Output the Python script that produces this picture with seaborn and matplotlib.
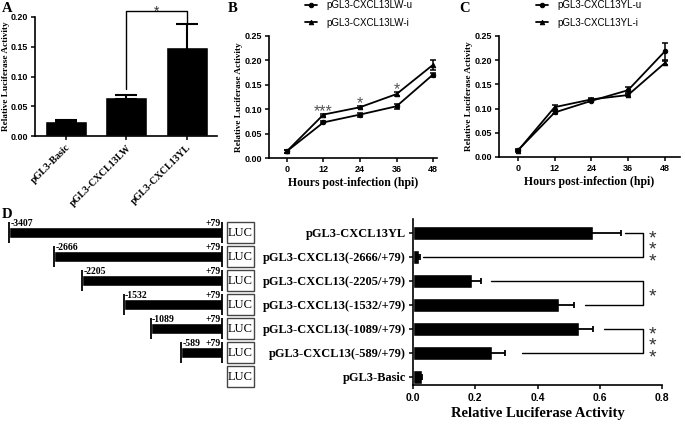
import numpy as np
import pandas as pd
import matplotlib
matplotlib.use("Agg")
import matplotlib.pyplot as plt
import matplotlib.transforms as mtransforms
from matplotlib.patches import Rectangle
import seaborn as sns

# ---------------- data ----------------
a_categories = ["pGL3-Basic", "pGL3-CXCL13LW", "pGL3-CXCL13YL"]
a_values = [0.025, 0.066, 0.150]
a_errors = [0.002, 0.003, 0.038]

hours = [0, 12, 24, 36, 48]
b_names = ["pGL3-CXCL13LW-u", "pGL3-CXCL13LW-i"]
b_u = [0.014, 0.073, 0.089, 0.106, 0.171]
b_u_err = [0.003, 0.002, 0.004, 0.005, 0.004]
b_i = [0.014, 0.089, 0.104, 0.131, 0.191]
b_i_err = [0.003, 0.002, 0.002, 0.004, 0.010]
b_stars = ["", "***", "*", "*", ""]

c_names = ["pGL3-CXCL13YL-u", "pGL3-CXCL13YL-i"]
c_u = [0.014, 0.092, 0.116, 0.138, 0.218]
c_u_err = [0.002, 0.003, 0.003, 0.006, 0.018]
c_i = [0.013, 0.103, 0.119, 0.128, 0.194]
c_i_err = [0.002, 0.005, 0.003, 0.003, 0.004]

d_categories = ["pGL3-CXCL13YL", "pGL3-CXCL13(-2666/+79)", "pGL3-CXCL13(-2205/+79)",
                "pGL3-CXCL13(-1532/+79)", "pGL3-CXCL13(-1089/+79)",
                "pGL3-CXCL13(-589/+79)", "pGL3-Basic"]
d_values = [0.578, 0.019, 0.190, 0.469, 0.533, 0.253, 0.028]
d_errors = [0.090, 0.004, 0.030, 0.048, 0.045, 0.042, 0.002]
d_sig = ["***", "*", "***"]

promoter_starts = [-3407, -2666, -2205, -1532, -1089, -589]
promoter_end = 79

# ---------------- style ----------------
sns.set_theme(style="ticks", rc={
    "axes.linewidth": 1.2, "axes.edgecolor": "black",
    "xtick.major.width": 1.1, "ytick.major.width": 1.1,
    "xtick.major.size": 3, "ytick.major.size": 3,
    "xtick.color": "black", "ytick.color": "black",
    "text.color": "black", "axes.labelcolor": "black",
})
plt.rcParams["font.family"] = ["Liberation Sans", "DejaVu Sans"]
SERIF = ["Liberation Serif", "DejaVu Serif"]
SANS = ["Liberation Sans", "DejaVu Sans"]

W, H = 685, 432
fig = plt.figure(figsize=(W / 100, H / 100), dpi=100)


def px_axes(l, t, r, b):
    return fig.add_axes([l / W, 1 - b / H, (r - l) / W, (b - t) / H])


def style_ticks(ax, size=6.5):
    for lab in ax.get_xticklabels() + ax.get_yticklabels():
        lab.set_fontfamily(SANS)
        lab.set_fontweight("bold")
        lab.set_fontsize(size)


# ---------------- Panel A ----------------
axA = px_axes(35, 17, 217, 136)
dfa = pd.DataFrame({"construct": a_categories, "activity": a_values})
sns.barplot(data=dfa, x="construct", y="activity", color="black", saturation=1,
            width=0.7, errorbar=None, ax=axA)
axA.errorbar(range(len(a_values)), a_values, yerr=a_errors, fmt="none",
             ecolor="black", elinewidth=1.5, capsize=8, capthick=1.5)
axA.set_xlim(-0.51, 2.5)
axA.set_ylim(0, 0.2)
axA.set_yticks(np.arange(0, 0.201, 0.05))
axA.set_yticklabels([f"{v:.2f}" for v in np.arange(0, 0.201, 0.05)])
style_ticks(axA, 6.4)
axA.set_xticks(range(3))
axA.set_xticklabels(a_categories, rotation=45, ha="right", rotation_mode="anchor",
                    fontsize=7.2, fontweight="bold", fontfamily=SERIF)
axA.tick_params(axis="both", pad=2)
axA.set_xlabel("")
axA.set_ylabel("Relative Luciferase Activity", fontsize=6.7, fontweight="bold",
               fontfamily=SERIF, labelpad=0.5)
sns.despine(ax=axA)
axA.plot([1, 1, 2, 2], [0.079, 0.2095, 0.2095, 0.188], color="black", lw=1,
         clip_on=False)
axA.annotate("*", (1.5, 0.2095), xytext=(0, -3), textcoords="offset points",
             ha="center", va="baseline", fontsize=10, color="#333333",
             annotation_clip=False)


# ---------------- Panels B, C ----------------
def line_panel(ax, u, u_err, i, i_err, names, xlim, leg_x):
    df = pd.DataFrame({"hpi": hours + hours, "activity": u + i,
                       "series": [names[0]] * len(hours) + [names[1]] * len(hours)})
    sns.lineplot(data=df, x="hpi", y="activity", hue="series", style="series",
                 markers={names[0]: "o", names[1]: "^"}, dashes=False,
                 palette={names[0]: "black", names[1]: "black"},
                 markersize=3.2, markeredgecolor="black", linewidth=1.3,
                 errorbar=None, ax=ax)
    for vals, errs in ((u, u_err), (i, i_err)):
        ax.errorbar(hours, vals, yerr=errs, fmt="none", ecolor="black",
                    elinewidth=1.1, capsize=2, capthick=1.1)
    ax.set_xlim(*xlim)
    ax.set_ylim(0, 0.25)
    ax.set_xticks(hours)
    ax.set_yticks(np.arange(0, 0.251, 0.05))
    ax.set_yticklabels([f"{v:.2f}" for v in np.arange(0, 0.251, 0.05)])
    style_ticks(ax, 6.5)
    ax.tick_params(axis="both", pad=2)
    ax.set_xlabel("Hours post-infection (hpi)", fontsize=8.5, fontweight="bold",
                  fontfamily=SERIF, labelpad=2)
    ax.set_ylabel("Relative Luciferase Activity", fontsize=6.7, fontweight="bold",
                  fontfamily=SERIF, labelpad=1)
    sns.despine(ax=ax)
    leg = ax.get_legend()
    handles = [h for h, t in zip(leg.legend_handles, leg.get_texts()) if t.get_text() in names]
    labels = [t.get_text() for t in leg.get_texts() if t.get_text() in names]
    leg.remove()
    ax.legend(handles, labels, loc="upper left", bbox_to_anchor=(leg_x / W, 1.0),
              bbox_transform=fig.transFigure, frameon=False, fontsize=7,
              handlelength=1.2, handletextpad=1.0, labelspacing=0.8,
              borderpad=0, borderaxespad=0)


axB = px_axes(269, 36, 437, 158)
line_panel(axB, b_u, b_u_err, b_i, b_i_err, b_names, (-5.9, 49.3), 305)
for h, s, v, e in zip(hours, b_stars, b_i, b_i_err):
    if s:
        axB.annotate(s, (h, v + e), xytext=(0, -1.5), textcoords="offset points",
                     ha="center", va="baseline", fontsize=11.5, color="#555555")

axC = px_axes(499, 36, 680, 157)
line_panel(axC, c_u, c_u_err, c_i, c_i_err, c_names, (-6.2, 53), 536)

# ---------------- Panel D (right: bar chart) ----------------
axD = px_axes(413, 219, 662, 385)
dfd = pd.DataFrame({"construct": d_categories, "activity": d_values})
sns.barplot(data=dfd, x="activity", y="construct", orient="h", color="black",
            saturation=1, width=0.58, errorbar=None, ax=axD)
axD.errorbar(d_values, range(len(d_values)), xerr=d_errors, fmt="none",
             ecolor="black", elinewidth=1.3, capsize=2.5, capthick=1.3)
axD.set_xlim(0, 0.8)
axD.set_ylim(6.35, -0.57)
axD.set_xticks(np.arange(0, 0.81, 0.2))
axD.set_xticklabels([f"{v:.1f}" for v in np.arange(0, 0.81, 0.2)])
style_ticks(axD, 7.5)
for lab in axD.get_yticklabels():
    lab.set_fontfamily(SERIF)
    lab.set_fontweight("bold")
    lab.set_fontsize(8.9)
axD.tick_params(axis="y", pad=2)
axD.tick_params(axis="x", pad=3)
axD.set_ylabel("")
axD.set_xlabel("Relative Luciferase Activity", fontsize=10.5, fontweight="bold",
               fontfamily=SERIF, labelpad=3)
sns.despine(ax=axD)

# significance brackets
brackets = [(0, 1, 0.68, 0.032), (2, 3, 0.25, 0.552), (4, 5, 0.613, 0.35)]
xr = 0.738
for (r1, r2, x1, x2), sig in zip(brackets, d_sig):
    axD.plot([x1, xr, xr, x2], [r1, r1, r2, r2], color="black", lw=1, clip_on=False)
    if len(sig) == 3:
        ymid = r1 + 0.45
    else:
        ymid = (r1 + r2) / 2 - 0.1
    axD.annotate("\n".join(sig), (0.77, ymid), xytext=(0, -5), textcoords="offset points",
                 ha="center", va="center", fontsize=14, linespacing=0.55,
                 color="#333333", annotation_clip=False)

# ---------------- Panel D (left: promoter diagram) ----------------
axL = px_axes(0, 219, 260, 385)
axL.set_xlim(-3554, 701)
axL.set_ylim(6.35, -0.57)
axL.axis("off")
rows = np.arange(len(promoter_starts))
axL.barh(rows, [promoter_end - s for s in promoter_starts], left=promoter_starts,
         height=0.46, color="black")
axL.vlines(promoter_starts, rows - 0.45, rows + 0.45, color="black", lw=1.3)
axL.vlines([promoter_end] * len(rows), rows - 0.45, rows + 0.45, color="black", lw=1.3)
for r, s in zip(rows, promoter_starts):
    axL.text(s + 20, r - 0.27, f"{s}", ha="left", va="baseline", fontsize=7,
             fontweight="bold", fontfamily=SERIF)
    axL.text(promoter_end - 15, r - 0.27, f"+{promoter_end}", ha="right",
             va="baseline", fontsize=7, fontweight="bold", fontfamily=SERIF)
trans = mtransforms.blended_transform_factory(axL.transAxes, axL.transData)
for r in range(len(d_categories)):
    axL.add_patch(Rectangle((0.873, r - 0.44), 0.104, 0.88, transform=trans,
                            facecolor="white", edgecolor="#444444", lw=1,
                            clip_on=False))
    axL.text(0.925, r + 0.03, "LUC", transform=trans, ha="center", va="center",
             fontsize=9, fontfamily=SERIF)

# ---------------- panel letters ----------------
for letter, (x, y) in {"A": (7, 8), "B": (233, 8), "C": (465, 8), "D": (7, 215)}.items():
    fig.text(x / W, 1 - y / H, letter, ha="center", va="center", fontsize=10.5,
             fontweight="bold", fontfamily=SERIF)

fig.savefig("out.png", dpi=100)
